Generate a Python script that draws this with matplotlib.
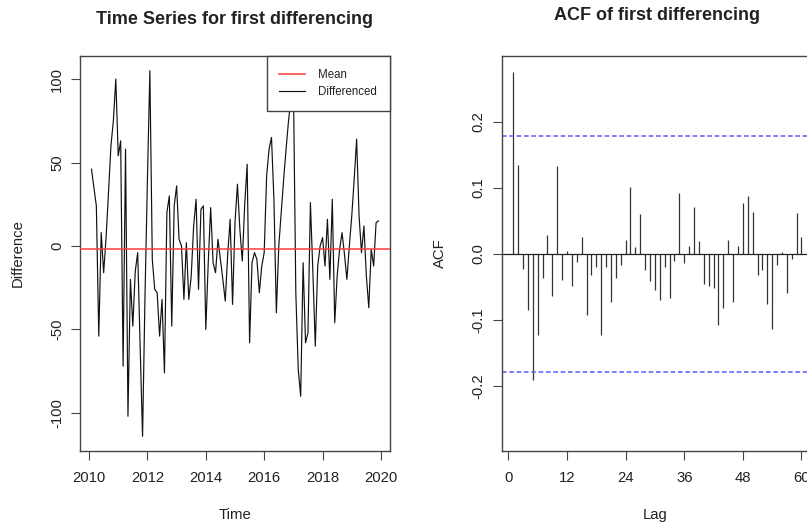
import numpy as np
import matplotlib
matplotlib.use("Agg")
import matplotlib.pyplot as plt

plt.rcParams['font.family'] = ['Liberation Sans', 'DejaVu Sans']

# ---- data ----
start_year = 2010
months = list(range(1, 120))  # Feb 2010 .. Dec 2019
diff_values = [
    46, 35, 24, -54, 8, -16, 5, 32, 60, 75, 100, 54, 63, -72, 58, -102, -20, -48, -15, -4,
    -60, -114, -30, 40, 105,
    -8, -26, -28, -54, -32, -76, 20, 30, -48, 24, 36, 4, 0, -32, 2, -32, -18, 12, 28, -26,
    22, 24, -50,
    -10, 23, -10, -16, 4, -8, -20, -33, -5, 16, -35, 14, 37, 10, -9, 25, 49, -58, -10, -4,
    -8, -28, -12, -4, 42,
    58, 65, 28, -40, 0, 20, 40, 58, 75, 88, 98, -28, -74, -90, -10, -58, -52, 26, -15, -60,
    -12, 0, 5,
    -12, 16, -20, 28, -46, -18, -2, 8, -5, -20, 0, 18, 40, 64, 18, -4, 12, -18, -37, -2,
    -12, 14, 15,
]
mean_value = -1.6

lags = list(range(1, 61))
acf_values = [
    0.276, 0.135, -0.022, -0.084, -0.191, -0.122, -0.037, 0.028, -0.063, 0.133,
    -0.040, 0.005, -0.048, -0.012, 0.026, -0.092, -0.032, -0.020, -0.122, -0.020,
    -0.073, -0.037, -0.016, 0.021, 0.102, 0.010, 0.060, -0.024, -0.041, -0.055,
    -0.070, -0.020, -0.066, -0.010, 0.092, -0.014, 0.012, 0.071, 0.019, -0.046,
    -0.048, -0.052, -0.108, -0.082, 0.021, -0.072, 0.012, 0.077, 0.087, 0.064,
    -0.032, -0.024, -0.076, -0.113, -0.016, 0.003, -0.059, -0.007, 0.062, 0.025,
]
conf_limit = 0.179

ts_yticks = [-100, -50, 0, 50, 100]
ts_xticks = [2010, 2012, 2014, 2016, 2018, 2020]
acf_yticks = [-0.2, -0.1, 0.0, 0.1, 0.2]
acf_yticklabels = ["-0.2", "-0.1", "0.0", "0.1", "0.2"]
acf_xticks = [0, 12, 24, 36, 48, 60]

# ---- figure ----
W, H = 807, 524
fig = plt.figure(figsize=(W / 100, H / 100), dpi=100)
fig.patch.set_facecolor('white')

def px_axes(l, t, r, b):
    return fig.add_axes([l / W, 1 - b / H, (r - l) / W, (b - t) / H])

ax1 = px_axes(80, 56, 390, 451)
ax2 = px_axes(501.7, 56, 813, 451)

frame_col = '#444444'
text_col = '#222222'

for ax in (ax1, ax2):
    for s in ax.spines.values():
        s.set_color(frame_col)
        s.set_linewidth(1.0)
    ax.tick_params(direction='out', length=6.5, width=0.8, color=frame_col,
                   labelcolor=text_col, labelsize=10.7)
    ax.tick_params(axis='x', pad=8)
    ax.tick_params(axis='y', pad=5)

# left: time series
t = [start_year + m / 12 for m in months]
ax1.plot(t, diff_values, color='#111111', lw=0.85, label='Differenced', zorder=2)
ax1.axhline(mean_value, color='#ff3b3b', lw=1.1, label='Mean', zorder=3)
ax1.set_xlim(2009.69, 2020.31)
ax1.set_ylim(-122.8, 113.8)
ax1.set_xticks(ts_xticks)
ax1.set_yticks(ts_yticks)
ax1.set_yticklabels([str(v) for v in ts_yticks], rotation=90, va='center')

h, l = ax1.get_legend_handles_labels()
order = [l.index('Mean'), l.index('Differenced')]
leg = ax1.legend([h[i] for i in order], [l[i] for i in order],
                 loc='upper right', bbox_to_anchor=(1, 1), borderaxespad=0,
                 fontsize=8.3, frameon=True, fancybox=False, framealpha=1,
                 edgecolor=frame_col, borderpad=1.1, handlelength=2.2,
                 handletextpad=1.2, labelspacing=0.45)
leg.get_frame().set_linewidth(1.0)
leg.set_zorder(5)
for txt in leg.get_texts():
    txt.set_color(text_col)

fig.text(235 / W, 1 - 20 / H, 'Time Series for first differencing', ha='center',
         va='center', fontsize=13, fontweight='bold', color=text_col)
fig.text(235 / W, 1 - 515 / H, 'Time', ha='center', va='center', fontsize=10.7,
         color=text_col)
fig.text(18 / W, 1 - 253 / H, 'Difference', ha='center', va='center', fontsize=10.7,
         rotation=90, color=text_col)

# right: ACF
ax2.vlines(lags, 0, acf_values, color='#333333', lw=0.9)
ax2.axhline(0, color='#222222', lw=0.9)
for c in (conf_limit, -conf_limit):
    ax2.axhline(c, color='#5a5aff', lw=1.1, dashes=(3.0, 1.8))
ax2.set_xlim(-1.36, 62.36)
ax2.set_ylim(-0.298, 0.2995)
ax2.set_xticks(acf_xticks)
ax2.set_yticks(acf_yticks)
ax2.set_yticklabels(acf_yticklabels, rotation=90, va='center')

fig.text(657 / W, 1 - 15 / H, 'ACF of first differencing', ha='center',
         va='center', fontsize=13, fontweight='bold', color=text_col)
fig.text(655 / W, 1 - 515 / H, 'Lag', ha='center', va='center', fontsize=10.7,
         color=text_col)
fig.text(440 / W, 1 - 253 / H, 'ACF', ha='center', va='center', fontsize=10.7,
         rotation=90, color=text_col)

fig.savefig('out.png', dpi=100, facecolor='white')
